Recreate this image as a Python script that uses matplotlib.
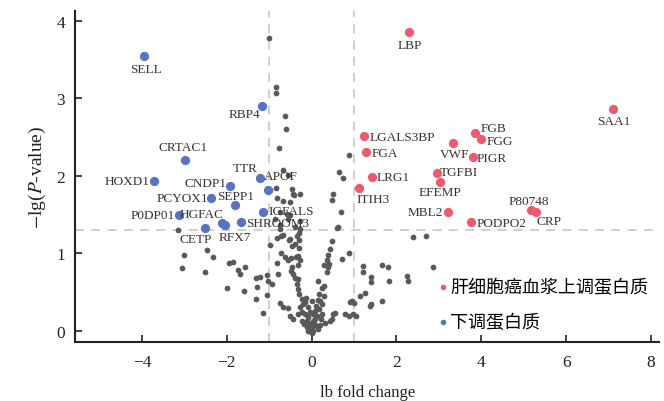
import matplotlib
matplotlib.use("Agg")
import matplotlib.pyplot as plt

plt.rcParams['font.family'] = ['Liberation Serif', 'Noto Sans CJK SC']
plt.rcParams['mathtext.fontset'] = 'stix'
plt.rcParams['axes.unicode_minus'] = True

# up-regulated (red)
red_names = ['LBP', 'SAA1', 'LGALS3BP', 'FGA', 'LRG1', 'ITIH3', 'FGB', 'FGG', 'VWF',
             'PIGR', 'TGFBI', 'EFEMP', 'MBL2', 'PODPO2', 'P80748', 'CRP']
red_fc = [2.30, 7.11, 1.23, 1.29, 1.42, 1.11, 3.85, 4.00, 3.34,
          3.80, 2.95, 3.02, 3.21, 3.76, 5.17, 5.28]
red_p = [3.86, 2.86, 2.52, 2.31, 1.98, 1.85, 2.55, 2.48, 2.43,
         2.24, 2.04, 1.92, 1.53, 1.40, 1.56, 1.54]

# down-regulated (blue)
blue_names = ['SELL', 'RBP4', 'CRTAC1', 'HOXD1', 'CNDP1', 'TTR', 'APOF', 'PCYOX1',
              'SEPP1', 'P0DP01', 'HGFAC', 'IGFALS', 'SHROOM3', 'CETP', 'RFX7']
blue_fc = [-3.95, -1.17, -2.98, -3.72, -1.92, -1.22, -1.04, -2.38,
           -1.80, -3.12, -2.12, -1.15, -1.67, -2.51, -2.04]
blue_p = [3.54, 2.90, 2.21, 1.93, 1.87, 1.97, 1.82, 1.71,
          1.62, 1.50, 1.39, 1.54, 1.40, 1.33, 1.37]

# not significant (gray)
gray_fc = [-3.14, -3.00, -3.06, -2.46, -2.32, -2.51, -1.96, -1.86, -1.73, -1.70, -1.56, -2.00,
           -1.59, -1.31, -1.21, -1.28, -1.31, -1.06, -1.06, -1.14, -1.02,
           -1.00, -0.85, -0.85, -0.64, -0.61, -0.77, -0.67, -0.55, -0.85, -0.99, -0.82, -0.67,
           -0.47, -0.45, -0.41, -0.51, -0.27, -0.75, -0.59, -0.86, -0.55, -0.51, -0.27, -0.75,
           -0.39, -0.27,
           0.88, 0.65, 0.75, 0.51, 0.47, 0.69, 0.62,
           -0.98, -0.82, -0.67, -0.75, -0.51, -0.47, -0.29, -0.29, -0.72, -0.72, -0.53, -0.39,
           -0.30, -0.35,
           -0.82, -0.63, -0.56, -0.49, -0.38, -0.31, -0.27, -0.33, -0.47, -0.49, -0.43, -0.39,
           -0.31, -0.94, -0.80, -0.35, -0.31, -0.30, -0.23, -0.20, -0.75, -0.67, -0.56, -0.27,
           -0.22, -0.16, -0.31, -0.51, -0.43, -0.23, -0.17, -0.12, -0.08, -0.04, 0.00, -0.09,
           0.00, 0.04, 0.04, -0.04, -0.08, -0.16, -0.14, 0.00,
           0.47, 0.43, 0.39, 0.36, 0.29, 0.42, 0.39, 0.37, 0.72, 0.87, 0.16, 0.24, 0.28, 0.18,
           0.28, 0.20, 0.24, 0.08, 0.12, 0.05, 0.12, 0.32, 0.43, 0.51, 0.55, 0.47, 0.79, 0.87,
           0.98, 1.05, 0.91, 1.00, 0.95, 1.14, 1.26, 1.39, 1.38, 1.65, 1.22, 1.20, 1.39, 1.39,
           1.65, 1.79, 1.83, 2.26, 2.28, 2.38, 2.70, 2.86, 0.59,
           0.15, 0.20, -0.05, 0.08, 0.22, 0.10, 0.14, -0.12, 0.03, 0.18, 0.25]
gray_p = [1.30, 0.98, 0.81, 1.04, 0.96, 0.76, 0.88, 0.89, 0.79, 0.74, 0.83, 0.55,
          0.52, 0.69, 0.70, 0.57, 0.41, 0.72, 0.46, 0.23, 0.65,
          3.78, 3.15, 3.07, 2.77, 2.60, 2.36, 2.08, 2.01, 1.84, 1.82, 1.72, 1.67,
          1.83, 1.77, 1.75, 1.66, 1.77, 1.53, 1.51, 1.44, 1.44, 1.49, 1.42, 1.31,
          1.34, 1.31,
          2.27, 2.05, 1.97, 1.77, 1.69, 1.54, 1.34,
          1.11, 1.20, 1.24, 1.37, 1.19, 1.10, 1.18, 1.27, 1.01, 1.22, 1.17, 1.12,
          1.07, 1.23,
          0.88, 0.95, 0.91, 0.94, 0.95, 0.97, 0.91, 0.85, 0.83, 0.78, 0.73, 0.69,
          0.67, 0.61, 0.73, 0.61, 0.54, 0.48, 0.41, 0.35, 0.36, 0.31, 0.30, 0.31,
          0.25, 0.22, 0.22, 0.20, 0.15, 0.13, 0.09, 0.13, 0.18, 0.09, 0.05, 0.00,
          -0.02, 0.13, 0.22, 0.24, 0.31, 0.37, 0.43, 0.39,
          1.16, 1.06, 0.98, 0.91, 0.85, 0.86, 0.82, 0.76, 0.93, 1.00, 0.64, 0.56, 0.58, 0.48,
          0.45, 0.39, 0.35, 0.26, 0.20, 0.10, 0.06, 0.11, 0.13, 0.22, 0.23, 0.16, 0.22, 0.20,
          0.22, 0.20, 0.38, 0.36, 0.39, 0.45, 0.49, 0.35, 0.32, 0.39, 0.84, 0.76, 0.70, 0.63,
          0.85, 0.83, 0.65, 0.71, 0.65, 1.21, 1.23, 0.82, 1.33,
          0.02, 0.08, 0.03, 0.15, 0.15, 0.32, 0.40, 0.05, 0.00, 0.28, 0.22]

legend_labels = ['肝细胞癌血浆上调蛋白质', '下调蛋白质']

# label placement: (dx, dy) in pixels, horizontal alignment
label_pos = {
    'SELL': (2, -12.5, 'center'), 'RBP4': (-1.5, -7.5, 'right'), 'CRTAC1': (-2, 12.4, 'center'),
    'HOXD1': (-4.7, 0, 'right'), 'CNDP1': (-4, 3.4, 'right'), 'TTR': (-2, 10, 'right'),
    'APOF': (-3.4, 13.5, 'left'), 'PCYOX1': (-2.4, 0, 'right'), 'SEPP1': (0, 9.7, 'center'),
    'P0DP01': (-4.3, 0, 'right'), 'HGFAC': (2.3, 9.6, 'right'), 'IGFALS': (5.6, 0.7, 'left'),
    'SHROOM3': (5, -1, 'left'), 'CETP': (-9.8, -10.8, 'center'), 'RFX7': (10, -12.6, 'center'),
    'LBP': (1, -13.5, 'center'), 'SAA1': (1, -11.5, 'center'), 'LGALS3BP': (5.6, -1, 'left'),
    'FGA': (5.4, -1.2, 'left'), 'LRG1': (5, 0, 'left'), 'ITIH3': (-2, -11.2, 'left'),
    'FGB': (5.3, 5.3, 'left'), 'FGG': (5, -2, 'left'), 'VWF': (1, -11, 'center'),
    'PIGR': (4, -1.2, 'left'), 'TGFBI': (3.3, 0.7, 'left'), 'EFEMP': (0.3, -9.8, 'center'),
    'MBL2': (-4.4, 0, 'right'), 'PODPO2': (5.7, -1, 'left'), 'P80748': (-2.2, 9.3, 'center'),
    'CRP': (1, -9.7, 'left'),
}

RED = '#ee5a6c'
BLUE = '#5673c4'
GRAY = '#595959'

fig = plt.figure(figsize=(6.64, 4.02), dpi=100)
ax = fig.add_axes([0.113, 0.147, 0.88, 0.824])

ax.axvline(-1, color='#cccccc', lw=1.3, ls=(0, (5, 4)), zorder=0)
ax.axvline(1, color='#cccccc', lw=1.3, ls=(0, (5, 4)), zorder=0)
ax.axhline(1.301, color='#cccccc', lw=1.3, ls=(0, (5, 4)), zorder=0)

ax.scatter(gray_fc, gray_p, s=17, color=GRAY, lw=0, zorder=2)
ax.scatter(red_fc, red_p, s=44, color=RED, lw=0, zorder=3, label=legend_labels[0])
ax.scatter(blue_fc, blue_p, s=44, color=BLUE, lw=0, zorder=3, label=legend_labels[1])

for names, xs, ys in [(red_names, red_fc, red_p), (blue_names, blue_fc, blue_p)]:
    for n, x, y in zip(names, xs, ys):
        dx, dy, ha = label_pos[n]
        ax.annotate(n, (x, y), xytext=(dx, dy), textcoords='offset pixels',
                    ha=ha, va='center', fontsize=9.5, color='#333333', zorder=4)

ax.set_xlim(-5.58, 8.2)
ax.set_ylim(-0.14, 4.13)
ax.set_xticks([-4, -2, 0, 2, 4, 6, 8])
ax.set_yticks([0, 1, 2, 3, 4])
ax.tick_params(direction='in', length=5, width=1.2, labelsize=12.5, colors='#222222')
ax.tick_params(axis='x', pad=9)
ax.tick_params(axis='y', pad=7)
for s in ['top', 'right']:
    ax.spines[s].set_visible(False)
for s in ['left', 'bottom']:
    ax.spines[s].set_linewidth(1.5)
    ax.spines[s].set_color('#222222')

ax.set_xlabel('lb fold change', fontsize=12, labelpad=10, color='#222222')
ax.set_ylabel(r'$-$lg($P$-value)', fontsize=14, labelpad=6, color='#222222')

leg = ax.legend(loc='upper left', bbox_to_anchor=(0.602, 0.231), frameon=False,
                fontsize=13, markerscale=0.6, handlelength=0.4, handletextpad=0.2,
                labelspacing=1.0, borderpad=0.2)

fig.savefig('out.png', dpi=100)
